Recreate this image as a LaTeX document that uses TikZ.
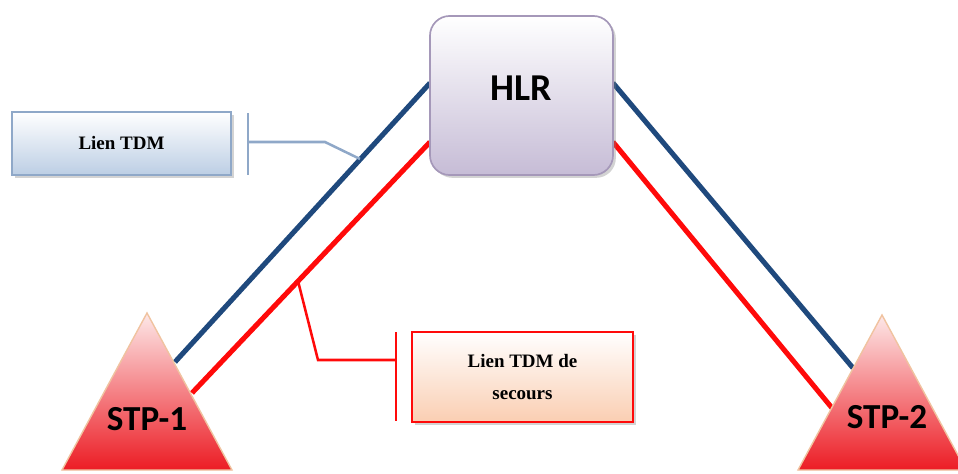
\documentclass[tikz,border=0pt]{standalone}
\usepackage{fontspec}
\setmainfont{Liberation Serif}
\newfontfamily\calibri{Carlito}
\usetikzlibrary{shadows}
\definecolor{lienbleu}{RGB}{31,73,125}
\definecolor{lienrouge}{RGB}{255,10,10}
\definecolor{hlrbas}{RGB}{198,188,214}
\definecolor{hlrbord}{RGB}{165,152,185}
\definecolor{tdmbas}{RGB}{188,206,228}
\definecolor{tdmbord}{RGB}{143,168,200}
\definecolor{secbas}{RGB}{250,206,178}
\definecolor{stphaut}{RGB}{253,232,232}
\definecolor{stpbas}{RGB}{236,28,36}
\definecolor{stpbord}{RGB}{240,195,160}
\tikzset{
  lien/.style={line width=3.6pt},
  renvoi/.style={line width=1.8pt},
  ombre/.style={drop shadow={shadow xshift=2pt, shadow yshift=-2pt, opacity=0.35}},
  stp/.style={top color=stphaut, bottom color=stpbas, draw=stpbord, line width=1pt},
}
\begin{document}
\begin{tikzpicture}[x=0.025cm,y=-0.025cm]
    \clip (0,0) rectangle (958,473);
    % 端点
    \coordinate (h1) at (430,83);
    \coordinate (h2) at (430,142);
    \coordinate (h3) at (613,83);
    \coordinate (h4) at (613,142);
    \coordinate (s1a) at (175,362);
    \coordinate (s1b) at (192,393);
    \coordinate (s2a) at (853,368);
    \coordinate (s2b) at (832,408);

    % 链路
    \draw[lien, lienbleu] (s1a) -- (h1);
    \draw[lien, lienrouge] (s1b) -- (h2);
    \draw[lien, lienbleu] (h3) -- (s2a);
    \draw[lien, lienrouge] (h4) -- (s2b);

    % HLR
    \node[ombre, draw=hlrbord, line width=1.2pt, rounded corners=14pt,
          top color=white, bottom color=hlrbas,
          minimum width=4.575cm, minimum height=3.975cm] (hlr) at (521.5,95.5) {};
    \node[anchor=base, font=\calibri\bfseries\fontsize{27}{32}\selectfont] (hlrtxt) at (521,100) {HLR};

    % STP
    \shade[stp] (147,313) -- (232,470) -- (62,470) -- cycle;
    \shade[stp] (882,315) -- (966,470) -- (798,470) -- cycle;
    \node[anchor=base, font=\calibri\bfseries\fontsize{25}{30}\selectfont] (stp1) at (147,430) {STP-1};
    \node[anchor=base, font=\calibri\bfseries\fontsize{25}{30}\selectfont] (stp2) at (887,428) {STP-2};

    % 说明框
    \node[ombre, draw=tdmbord, line width=1.2pt, top color=white, bottom color=tdmbas,
          minimum width=5.475cm, minimum height=1.575cm,
          font=\bfseries\fontsize{13.5}{16}\selectfont] (tdm) at (121.5,143.5) {Lien TDM};
    \node[ombre, draw=lienrouge, line width=1.8pt, top color=white, bottom color=secbas,
          minimum width=5.525cm, minimum height=2.25cm, align=center,
          font=\bfseries\fontsize{13.5}{22.8}\selectfont] (sec) at (522.5,377) {Lien TDM de\\secours};

    \coordinate (b1) at (248,113);
    \coordinate (b2) at (248,175);
    \coordinate (b3) at (248,142);
    \coordinate (b4) at (325,142);
    \coordinate (b5) at (360,159);
    \draw[renvoi, tdmbord] (b1) -- (b2);
    \draw[renvoi, tdmbord] (b3) -- (b4) -- (b5);

    \coordinate (r1) at (396,332);
    \coordinate (r2) at (396,421);
    \coordinate (r3) at (396,360);
    \coordinate (r4) at (318,360);
    \coordinate (r5) at (298,281);
    \draw[renvoi, lienrouge] (r1) -- (r2);
    \draw[renvoi, lienrouge] (r3) -- (r4) -- (r5);
\end{tikzpicture}
\end{document}
